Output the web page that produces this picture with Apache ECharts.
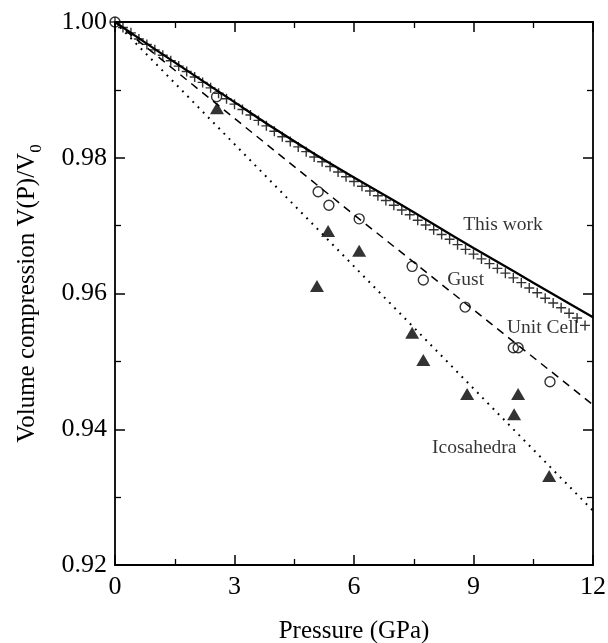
<!DOCTYPE html>
<html><head><meta charset="utf-8">
<script src="https://cdn.jsdelivr.net/npm/echarts@6/dist/echarts.min.js"></script>
<style>html,body{margin:0;padding:0;background:#fff}#c{width:608px;height:643px}</style>
</head><body><div id="c"></div>
<script>
// ---- data ----
const thisWorkP = [0, 1, 2, 3, 4, 5, 6, 7, 8, 9, 10, 11, 12];
const thisWorkV = [1.0000, 0.9960, 0.9921, 0.9882, 0.9843, 0.9806, 0.9771, 0.9737, 0.9702, 0.9667, 0.9633, 0.9599, 0.9565];

const unitCellP = [0.0,0.2,0.4,0.6,0.8,1.0,1.2,1.4,1.6,1.8,2.0,2.2,2.4,2.6,2.8,3.0,3.2,3.4,3.6,3.8,4.0,4.2,4.4,4.6,4.8,5.0,5.2,5.4,5.6,5.8,6.0,6.2,6.4,6.6,6.8,7.0,7.2,7.4,7.6,7.8,8.0,8.2,8.4,8.6,8.8,9.0,9.2,9.4,9.6,9.8,10.0,10.2,10.4,10.6,10.8,11.0,11.2,11.4,11.6,11.8];
const unitCellV = [1.0000,0.9992,0.9984,0.9975,0.9967,0.9959,0.9951,0.9943,0.9935,0.9927,0.9919,0.9911,0.9903,0.9895,0.9887,0.9879,0.9871,0.9863,0.9855,0.9847,0.9839,0.9831,0.9824,0.9816,0.9809,0.9801,0.9794,0.9787,0.9779,0.9772,0.9765,0.9758,0.9751,0.9744,0.9737,0.9730,0.9723,0.9716,0.9708,0.9701,0.9694,0.9687,0.9680,0.9672,0.9665,0.9658,0.9651,0.9644,0.9637,0.9630,0.9623,0.9616,0.9608,0.9601,0.9593,0.9586,0.9579,0.9571,0.9564,0.9553];

const gustP = [0, 2.55, 5.10, 5.37, 6.13, 7.46, 7.74, 8.79, 10.00, 10.12, 10.92];
const gustV = [1.000, 0.989, 0.975, 0.973, 0.971, 0.964, 0.962, 0.958, 0.952, 0.952, 0.947];
const gustFitP = [0, 6, 12];
const gustFitV = [1.000, 0.9716, 0.9436];

const icoP = [2.56, 5.07, 5.35, 6.13, 7.46, 7.74, 8.84, 10.02, 10.12, 10.90];
const icoV = [0.9873, 0.9611, 0.9692, 0.9663, 0.9542, 0.9502, 0.9452, 0.9422, 0.9452, 0.9331];
const icoFitP = [0, 6, 12];
const icoFitV = [1.000, 0.964, 0.928];

const xTicks = [0, 3, 6, 9, 12];
const yTicks = [0.92, 0.94, 0.96, 0.98, 1.00];

const labelTexts = ['This work', 'Gust', 'Unit Cell', 'Icosahedra'];

// ---- chart ----
const zip = (a, b) => a.map((v, i) => [v, b[i]]);
const FONT = '"Liberation Serif", "DejaVu Serif", serif';
const chart = echarts.init(document.getElementById('c'), null, {renderer: 'canvas'});

const axisLineStyle = {color: '#000', width: 1.8};
function xAxisCfg(pos, showLabel) {
  return {
    type: 'value', position: pos, min: xTicks[0], max: xTicks[xTicks.length - 1], interval: xTicks[1] - xTicks[0],
    axisLine: {show: true, onZero: false, lineStyle: axisLineStyle},
    axisTick: {show: true, inside: true, length: 10, lineStyle: {color: '#000', width: 1.5}},
    minorTick: {show: true, splitNumber: 2, length: 6, lineStyle: {color: '#000', width: 1.3}},
    splitLine: {show: false}, minorSplitLine: {show: false},
    axisLabel: {show: showLabel, color: '#000', fontFamily: FONT, fontSize: 26, margin: 9,
      formatter: v => String(v)}
  };
}
function yAxisCfg(pos, showLabel) {
  return {
    type: 'value', position: pos, min: yTicks[0], max: yTicks[yTicks.length - 1], interval: 0.02,
    axisLine: {show: true, onZero: false, lineStyle: axisLineStyle},
    axisTick: {show: true, inside: true, length: 10, lineStyle: {color: '#000', width: 1.5}},
    minorTick: {show: true, splitNumber: 2, length: 6, lineStyle: {color: '#000', width: 1.3}},
    splitLine: {show: false}, minorSplitLine: {show: false},
    axisLabel: {show: showLabel, color: '#000', fontFamily: FONT, fontSize: 26, margin: 8,
      formatter: v => v.toFixed(2)}
  };
}

const xMain = xAxisCfg('bottom', true);
xMain.name = 'Pressure (GPa)';
xMain.nameLocation = 'middle';
xMain.nameGap = 54;
xMain.nameTextStyle = {color: '#000', fontFamily: FONT, fontSize: 25};

const yMain = yAxisCfg('left', true);
yMain.name = '{a|Volume compression V(P)/V}{b|0}';
yMain.nameLocation = 'middle';
yMain.nameGap = 70;
yMain.nameTextStyle = {
  color: '#000', fontFamily: FONT, fontSize: 25,
  rich: {
    a: {color: '#000', fontFamily: FONT, fontSize: 25, lineHeight: 36},
    b: {color: '#000', fontFamily: FONT, fontSize: 17, lineHeight: 15, verticalAlign: 'bottom'}
  }
};

const labelStyle = {show: true, position: 'right', distance: 0, color: '#000', fontFamily: FONT, fontSize: 19.5,
  formatter: p => p.data[2]};

chart.setOption({
  animation: false,
  backgroundColor: '#fff',
  grid: {left: 115, right: 15, top: 22, bottom: 78, containLabel: false, outerBoundsMode: 'none'},
  xAxis: [xMain, xAxisCfg('top', false)],
  yAxis: [yMain, yAxisCfg('right', false)],
  series: [
    {name: 'This work', type: 'line', data: zip(thisWorkP, thisWorkV), smooth: 0.3, showSymbol: false,
      lineStyle: {color: '#000', width: 2.3}, z: 3},
    {name: 'Gust fit', type: 'line', data: zip(gustFitP, gustFitV), showSymbol: false,
      lineStyle: {color: '#000', width: 1.5, type: [8, 6]}, z: 2},
    {name: 'Icosahedra fit', type: 'line', data: zip(icoFitP, icoFitV), showSymbol: false,
      lineStyle: {color: '#000', width: 2, type: [1.8, 5.6], cap: 'butt'}, z: 2},
    {name: 'Unit Cell', type: 'scatter', data: zip(unitCellP, unitCellV), symbol: 'path://M0,5L10,5M5,0L5,10',
      symbolSize: 10, itemStyle: {color: 'rgba(0,0,0,0)', borderColor: '#000', borderWidth: 1.4}, z: 4, clip: false},
    {name: 'Gust', type: 'scatter', data: zip(gustP, gustV), symbol: 'circle', symbolSize: 10,
      itemStyle: {color: 'rgba(0,0,0,0)', borderColor: '#000', borderWidth: 1.4}, z: 5, clip: false},
    {name: 'Icosahedra', type: 'scatter', data: zip(icoP, icoV), symbol: 'triangle', symbolSize: [14, 12],
      itemStyle: {color: '#000'}, z: 5},
    {name: 'labels', type: 'scatter', symbolSize: 0, silent: true, z: 6,
      data: [[8.74, 0.9701, labelTexts[0]], [8.34, 0.9620, labelTexts[1]], [9.84, 0.9549, labelTexts[2]], [7.96, 0.9372, labelTexts[3]]],
      label: labelStyle}
  ]
});
</script></body></html>
